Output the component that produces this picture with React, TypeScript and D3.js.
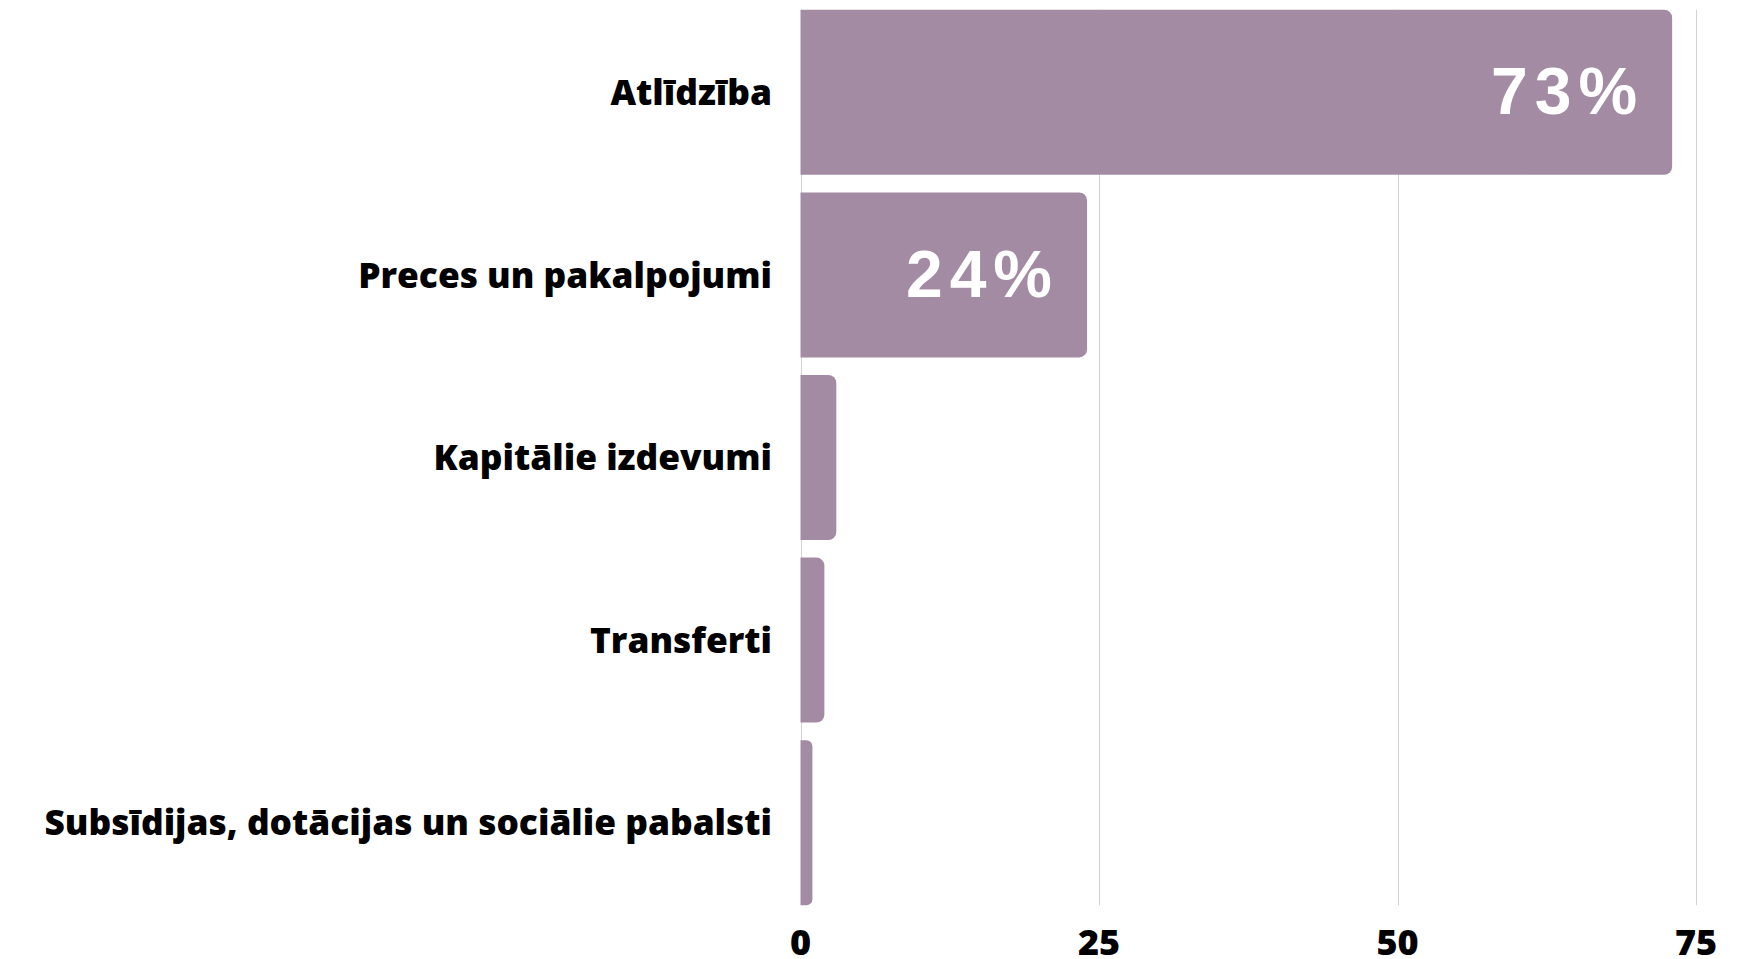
import React, { useRef, useEffect } from 'react';
import * as d3 from 'd3';

const categories = [
  'Atlīdzība',
  'Preces un pakalpojumi',
  'Kapitālie izdevumi',
  'Transferti',
  'Subsīdijas, dotācijas un sociālie pabalsti',
];
const shares = [73, 24, 3, 2, 1];
const valueLabels = ['73%', '24%', '', '', ''];
const ticks = [0, 25, 50, 75];

const W = 1740;
const H = 959;
const barColor = '#a38ba3';
const labelFont = '"Open Sans", "DejaVu Sans", sans-serif';

const App = () => {
  const svgRef = useRef<SVGSVGElement>(null);

  useEffect(() => {
    const svg = d3.select(svgRef.current);
    svg.selectAll('*').remove();

    const x = d3.scaleLinear().domain([0, 75]).range([800.5, 1696]);
    const y = d3
      .scaleBand()
      .domain(categories)
      .range([1, 914])
      .paddingInner(0.0965)
      .paddingOuter(0.048);

    const top = y(categories[0])!;
    const bottom = y(categories[categories.length - 1])! + y.bandwidth();

    // gridlines
    svg
      .append('g')
      .selectAll('line')
      .data(ticks)
      .join('line')
      .attr('x1', d => Math.round(x(d)) + 0.5)
      .attr('x2', d => Math.round(x(d)) + 0.5)
      .attr('y1', top)
      .attr('y2', bottom)
      .attr('stroke', '#d2d2d2')
      .attr('stroke-width', 1);

    // bars, rounded on the right side only
    const r = 8;
    svg
      .append('g')
      .selectAll('path')
      .data(categories)
      .join('path')
      .attr('fill', barColor)
      .attr('d', (c, i) => {
        const x0 = x(0);
        const x1 = x(shares[i]);
        const y0 = y(c)!;
        const h = y.bandwidth();
        const rr = Math.min(r, (x1 - x0) / 2);
        return `M${x0},${y0}H${x1 - rr}A${rr},${rr} 0 0 1 ${x1},${y0 + rr}V${y0 + h - rr}A${rr},${rr} 0 0 1 ${x1 - rr},${y0 + h}H${x0}Z`;
      });

    // value labels inside bars
    svg
      .append('g')
      .selectAll('text')
      .data(categories)
      .join('text')
      .attr('x', (c, i) => x(shares[i]) - 28)
      .attr('y', c => y(c)! + y.bandwidth() / 2)
      .attr('dy', '0.33em')
      .attr('text-anchor', 'end')
      .attr('fill', '#ffffff')
      .attr('font-family', '"Liberation Sans", Arial, sans-serif')
      .attr('font-weight', 700)
      .attr('font-size', 66)
      .attr('letter-spacing', 7)
      .text((c, i) => valueLabels[i]);

    // category labels
    svg
      .append('g')
      .selectAll('text')
      .data(categories)
      .join('text')
      .attr('x', 772)
      .attr('y', c => y(c)! + y.bandwidth() / 2)
      .attr('dy', '0.36em')
      .attr('text-anchor', 'end')
      .attr('fill', '#000000')
      .attr('font-family', labelFont)
      .attr('font-weight', 800)
      .attr('font-size', 35.3)
      .text(c => c);

    // x tick labels
    svg
      .append('g')
      .selectAll('text')
      .data(ticks)
      .join('text')
      .attr('x', d => x(d))
      .attr('y', 955)
      .attr('text-anchor', 'middle')
      .attr('fill', '#000000')
      .attr('font-family', labelFont)
      .attr('font-weight', 800)
      .attr('font-size', 36)
      .text(d => d);
  }, []);

  return (
    <svg
      ref={svgRef}
      width={W}
      height={H}
      style={{ position: 'absolute', left: 0, top: 0, background: '#fff' }}
    />
  );
};

export default App;
